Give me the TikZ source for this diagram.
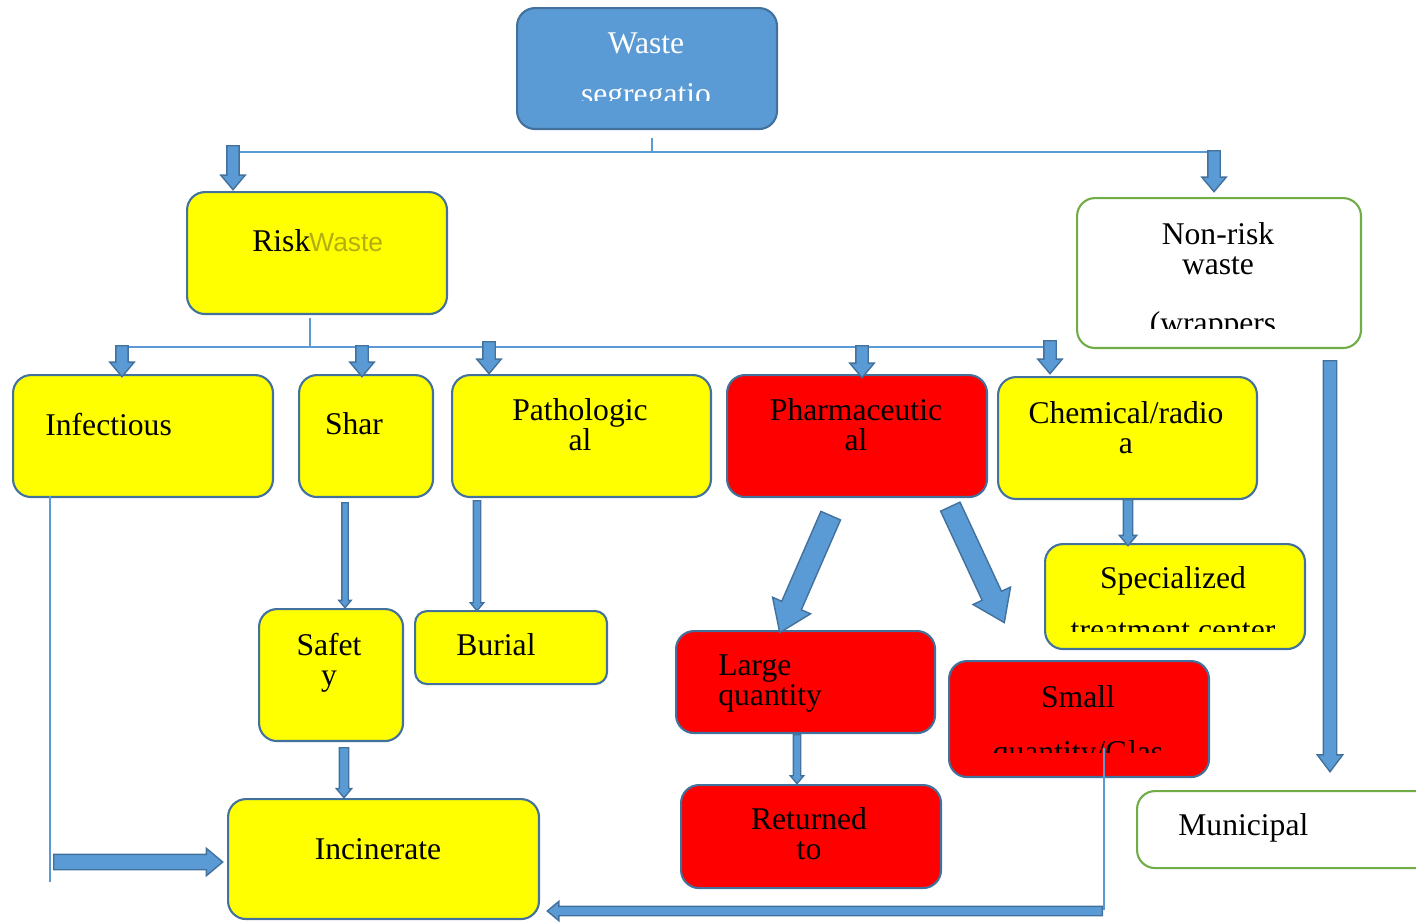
\documentclass[tikz,border=0pt]{standalone}
\usepackage{fontspec}
\setmainfont{Liberation Serif}
\newfontfamily\ghostfont{Liberation Sans}
\usetikzlibrary{shapes.arrows,calc,positioning}

\definecolor{segblue}{HTML}{5B9BD5}
\definecolor{edgeblue}{HTML}{41719C}
\definecolor{edgegreen}{HTML}{70AD47}
\definecolor{boxyellow}{RGB}{255,255,0}
\definecolor{boxred}{RGB}{255,0,0}
\definecolor{ghostcol}{HTML}{9A9414}

% block arrow from #1 (tail) to #2 (tip), shaft width #3 and head extend #4 in px
\newcommand{\blockarrow}[5][]{%
  \path let \p1=($(#3)-(#2)$), \n1={veclen(\x1,\y1)}, \n2={atan2(\y1,\x1)} in
    node[barrow, minimum height=\n1, inner ysep=#4*0.01cm,
         single arrow head extend=#5*0.02cm, rotate=\n2, #1] (arr-#2) at (#2) {};}

\begin{document}
\begin{tikzpicture}[
    x=0.02cm, y=-0.02cm,
    card/.style={draw=edgeblue, line width=1.2pt, rounded corners=0.36cm,
                 anchor=north west, inner sep=0},
    ybox/.style={card, fill=boxyellow},
    rbox/.style={card, fill=boxred},
    gbox/.style={card, draw=edgegreen, fill=white},
    txt/.style={font=\fontsize{18}{17}\selectfont, inner sep=0, anchor=base, align=center},
    thinlink/.style={draw=segblue, line width=0.8pt},
    barrow/.style={single arrow, draw=edgeblue, fill=segblue, line width=0.8pt,
                   anchor=tail, inner xsep=0pt, minimum width=0pt,
                   single arrow tip angle=80}
  ]
  \useasboundingbox (0,0) rectangle (1416,921);

  % Boxes
  \node[card, fill=segblue, minimum width=5.2cm, minimum height=2.42cm] (seg) at (516,7) {};
  \node[ybox, minimum width=5.2cm, minimum height=2.44cm] (risk) at (186,191) {};
  \node[gbox, minimum width=5.68cm, minimum height=3cm] (nonrisk) at (1076,197) {};
  \node[ybox, minimum width=5.2cm, minimum height=2.44cm] (infect) at (12,374) {};
  \node[ybox, minimum width=2.68cm, minimum height=2.44cm] (sharp) at (298,374) {};
  \node[ybox, minimum width=5.18cm, minimum height=2.44cm] (patho) at (451,374) {};
  \node[rbox, minimum width=5.2cm, minimum height=2.44cm] (pharma) at (726,374) {};
  \node[ybox, minimum width=5.18cm, minimum height=2.44cm] (chem) at (997,376) {};
  \node[ybox, minimum width=5.2cm, minimum height=2.1cm] (special) at (1044,543) {};
  \node[ybox, minimum width=2.88cm, minimum height=2.64cm] (safety) at (258,608) {};
  \node[ybox, rounded corners=0.24cm, minimum width=3.84cm, minimum height=1.46cm] (burial) at (414,610) {};
  \node[rbox, minimum width=5.18cm, minimum height=2.04cm] (large) at (675,630) {};
  \node[rbox, minimum width=5.2cm, minimum height=2.06cm] (returned) at (680,784) {};
  \node[rbox, minimum width=5.2cm, minimum height=2.32cm] (small) at (948,660) {};
  \node[ybox, minimum width=6.22cm, minimum height=2.4cm] (incin) at (227,798) {};
  \node[gbox, minimum width=6cm, minimum height=1.54cm] (munic) at (1136,790) {};

  % Texts (base = last line)
  \node[txt, text=white] (segT) at (646,53) {Waste};
  \begin{scope}
    \clip (520,60) rectangle (772,100);
    \node[txt, text=white] (segT2) at (646,104) {segregatio};
  \end{scope}
  \node[txt, anchor=base west] (riskT) at (252,251) {Risk};
  \node[inner sep=0, anchor=base west, text=ghostcol, opacity=0.75,
        font=\ghostfont\fontsize{15}{15}\selectfont] (riskG) at (309,251) {Waste};
  \node[txt] (nonriskT) at (1218,274) {Non-risk\\waste};
  \begin{scope}
    \clip (1080,300) rectangle (1356,328);
    \node[txt] (nonriskT2) at (1217,333) {(wrappers,};
  \end{scope}
  \node[txt, anchor=base west] (infectT) at (45,435) {Infectious};
  \node[txt] (sharpT) at (354,434) {Shar};
  \node[txt] (pathoT) at (580,450) {Pathologic\\al};
  \node[txt] (pharmaT) at (856,450) {Pharmaceutic\\al};
  \node[txt] (chemT) at (1126,453) {Chemical/radio\\a};
  \node[txt] (specialT) at (1173,588) {Specialized};
  \begin{scope}
    \clip (1048,600) rectangle (1300,631);
    \node[txt] (specialT2) at (1173,640) {treatment center};
  \end{scope}
  \node[txt] (safetyT) at (329,685) {Safet\\y};
  \node[txt] (burialT) at (496,655) {Burial};
  \node[txt, anchor=base west, align=left] (largeT) at (718,705) {Large\\quantity};
  \node[txt] (returnedT) at (809,859) {Returned\\to};
  \node[txt] (smallT) at (1078,707) {Small};
  \begin{scope}
    \clip (952,715) rectangle (1204,752);
    \node[txt] (smallT2) at (1078,762) {quantity/Glas};
  \end{scope}
  \node[txt] (incinT) at (378,859) {Incinerate};
  \node[txt, anchor=base west] (municT) at (1178,835) {Municipal};

  % Thin links
  \coordinate (segdrop) at (652,138);
  \coordinate (topbar) at (652,152);
  \coordinate (topL) at (233,152);
  \coordinate (topR) at (1214,152);
  \coordinate (riskdrop) at (310,318);
  \coordinate (midbar) at (310,347);
  \coordinate (midL) at (122,347);
  \coordinate (midR) at (1050,347);
  \coordinate (infdrop) at (50,496);
  \coordinate (infend) at (50,882);
  \coordinate (smalldrop) at (1104,748);
  \coordinate (smallend) at (1104,910);
  \draw[thinlink] (segdrop) -- (topbar);
  \draw[thinlink] (topL) -- (topR);
  \draw[thinlink] (riskdrop) -- (midbar);
  \draw[thinlink] (midL) -- (midR);
  \draw[thinlink] (infdrop) -- (infend);
  \draw[thinlink] (smalldrop) -- (smallend);

  % Block arrows
  \coordinate (a1) at (233,145);   \coordinate (b1) at (233,189);
  \coordinate (a2) at (1214,150);  \coordinate (b2) at (1214,191);
  \coordinate (a3) at (122,345);   \coordinate (b3) at (122,376);
  \coordinate (a4) at (362,345);   \coordinate (b4) at (362,376);
  \coordinate (a5) at (489,341);   \coordinate (b5) at (489,373);
  \coordinate (a6) at (862,345);   \coordinate (b6) at (862,377);
  \coordinate (a7) at (1050,340);  \coordinate (b7) at (1050,373);
  \coordinate (a8) at (1128,499);  \coordinate (b8) at (1128,545);
  \coordinate (a9) at (1330,360);  \coordinate (b9) at (1330,771);
  \coordinate (a10) at (345,502);  \coordinate (b10) at (345,607);
  \coordinate (a11) at (477,500);  \coordinate (b11) at (477,610);
  \coordinate (a12) at (344,747);  \coordinate (b12) at (344,797);
  \coordinate (a13) at (797,734);  \coordinate (b13) at (797,783);
  \coordinate (a14) at (53,862);   \coordinate (b14) at (222,862);
  \coordinate (a15) at (1103,911); \coordinate (b15) at (548,911);
  \coordinate (a16) at (831,515);  \coordinate (b16) at (780,632);
  \coordinate (a17) at (950,506);  \coordinate (b17) at (1004,622);
  \blockarrow{a1}{b1}{11}{6}
  \blockarrow{a2}{b2}{11}{6}
  \blockarrow{a3}{b3}{11}{6}
  \blockarrow{a4}{b4}{11}{6}
  \blockarrow{a5}{b5}{11}{6}
  \blockarrow{a6}{b6}{11}{6}
  \blockarrow{a7}{b7}{11}{6}
  \blockarrow{a8}{b8}{8}{4}
  \blockarrow[single arrow tip angle=74]{a9}{b9}{12}{6}
  \blockarrow{a10}{b10}{5}{3}
  \blockarrow{a11}{b11}{6}{3}
  \blockarrow{a12}{b12}{8}{3}
  \blockarrow{a13}{b13}{6}{3}
  \blockarrow{a14}{b14}{14}{6}
  \blockarrow{a15}{b15}{8}{5}
  \blockarrow[single arrow tip angle=70]{a16}{b16}{20}{10}
  \blockarrow[single arrow tip angle=70]{a17}{b17}{20}{10}

\end{tikzpicture}
\end{document}
